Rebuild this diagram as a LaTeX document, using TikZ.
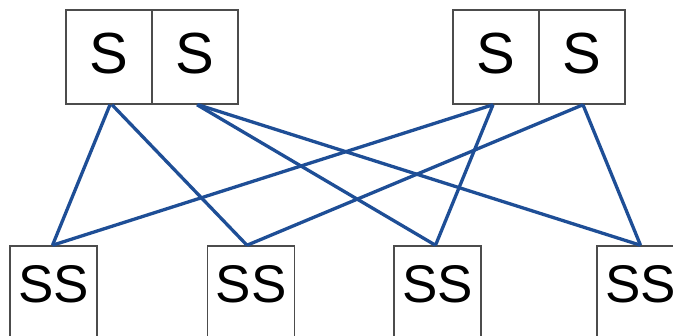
\documentclass[tikz,border=0pt]{standalone}
\usepackage{fontspec}
\setmainfont{Liberation Sans}
\begin{document}
\begin{tikzpicture}[x=1pt,y=-1pt,
  topbox/.style={draw=black!70,line width=1.5pt,minimum width=86pt,inner xsep=0pt,
    inner ysep=22pt,text height=42pt,text depth=8pt,anchor=base,
    font=\fontsize{58}{58}\selectfont},
  botbox/.style={draw=black!70,line width=1.5pt,minimum width=87pt,inner xsep=0pt,
    inner ysep=19pt,text height=38pt,text depth=45pt,anchor=base,
    font=\fontsize{53}{53}\selectfont},
  link/.style={draw={rgb,255:red,30;green,78;blue,150},line width=3.3pt}]
\useasboundingbox (0,0) rectangle (673,336);
\clip (0,0) rectangle (673,336);
\fill[white] (0,0) rectangle (673,336);
\node[topbox] (s1) at (109,74) {S};
\node[topbox] (s2) at (195,74) {S};
\node[topbox] (s3) at (496,74) {S};
\node[topbox] (s4) at (582,74) {S};
\node[botbox] (ss1) at (53.5,303) {SS};
\node[botbox] (ss2) at (251,303) {SS};
\node[botbox] (ss3) at (437.5,303) {SS};
\node[botbox] (ss4) at (640.5,303) {SS};
\draw[link] ([xshift=1pt]s1.south) -- ([xshift=-1pt]ss1.north);
\draw[link] ([xshift=3pt]s1.south) -- ([xshift=-4pt]ss2.north);
\draw[link] ([xshift=2pt]s2.south) -- ([xshift=-2pt]ss3.north);
\draw[link] ([xshift=3pt]s2.south) -- (ss4.north);
\draw[link] ([xshift=-3pt]s3.south) -- ([xshift=-1pt]ss1.north);
\draw[link] ([xshift=-3pt]s3.south) -- ([xshift=-2pt]ss3.north);
\draw[link] ([xshift=1pt]s4.south) -- ([xshift=-4pt]ss2.north);
\draw[link] ([xshift=1pt]s4.south) -- (ss4.north);
\end{tikzpicture}
\end{document}
